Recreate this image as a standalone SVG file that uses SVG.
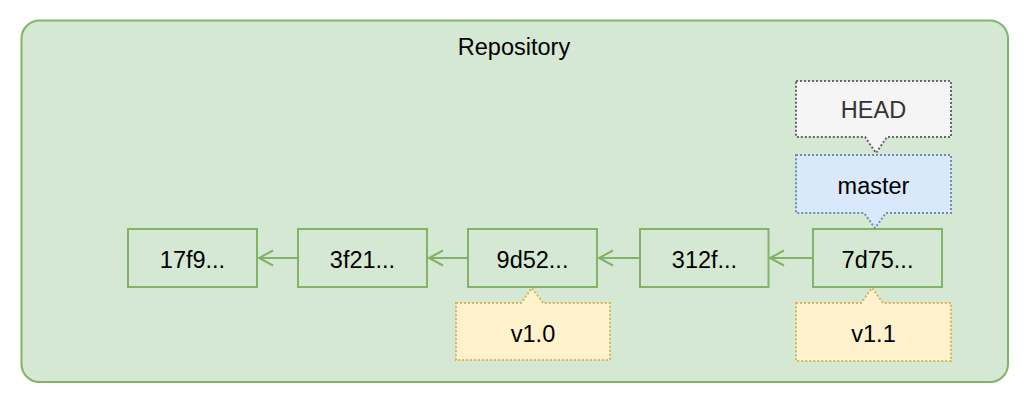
<svg xmlns="http://www.w3.org/2000/svg" width="1028" height="400" viewBox="0 0 1028 400">
  <defs>
    <style>
      text { font-family: "Liberation Sans", Arial, Helvetica, sans-serif; font-size: 23.5px; text-anchor: middle; fill: #000000; }
      .commit { fill: #d5e8d4; stroke: #82b366; stroke-width: 2; }
      .edge { fill: none; stroke: #82b366; stroke-width: 2; }
      .head { fill: #f5f5f5; stroke: #666666; stroke-width: 2; stroke-dasharray: 2 2; }
      .branch { fill: #dae8fc; stroke: #6c8ebf; stroke-width: 2; stroke-dasharray: 2 2; }
      .tag { fill: #fff2cc; stroke: #d6b656; stroke-width: 2; stroke-dasharray: 2 2; }
    </style>
    <marker id="open" markerUnits="userSpaceOnUse" markerWidth="18" markerHeight="18" refX="15" refY="8.5" orient="auto" overflow="visible">
      <path d="M1,1 L15,8.5 L1,16" fill="none" stroke="#82b366" stroke-width="2"/>
    </marker>
  </defs>

  <g id="repository">
    <rect x="21.5" y="20.5" width="986.5" height="361.5" rx="18" ry="18" fill="#d5e8d4" stroke="#82b366" stroke-width="2"/>
    <text x="514" y="55">Repository</text>
  </g>

  <g id="connectors">
    <line class="edge" x1="298" y1="258" x2="259" y2="258" marker-end="url(#open)"/>
    <line class="edge" x1="468" y1="258" x2="429" y2="258" marker-end="url(#open)"/>
    <line class="edge" x1="640" y1="258" x2="599" y2="258" marker-end="url(#open)"/>
    <line class="edge" x1="813" y1="258" x2="770" y2="258" marker-end="url(#open)"/>
  </g>

  <g id="commit-17f9">
    <rect class="commit" x="128" y="229" width="129" height="58"/>
    <text x="192.5" y="267.5">17f9...</text>
  </g>
  <g id="commit-3f21">
    <rect class="commit" x="298" y="229" width="129" height="58"/>
    <text x="362.5" y="267.5">3f21...</text>
  </g>
  <g id="commit-9d52">
    <rect class="commit" x="468" y="229" width="129" height="58"/>
    <text x="532.5" y="267.5">9d52...</text>
  </g>
  <g id="commit-312f">
    <rect class="commit" x="640" y="229" width="128.5" height="58"/>
    <text x="704.5" y="267.5">312f...</text>
  </g>
  <g id="commit-7d75">
    <rect class="commit" x="813" y="229" width="129" height="58"/>
    <text x="877.5" y="267.5">7d75...</text>
  </g>

  <g id="head">
    <path class="head" d="M796,81 H951 V137 H887 L876,153 L865,137 H796 Z"/>
    <text x="873.5" y="118" style="fill:#333333">HEAD</text>
  </g>
  <g id="master">
    <path class="branch" d="M796,155 H951 V213 H886 L875,228 L864,213 H796 Z"/>
    <text x="873.5" y="193.5">master</text>
  </g>
  <g id="tag-v1-0">
    <path class="tag" d="M456,303 H521 L532,288 L543,303 H610 V360 H456 Z"/>
    <text x="533" y="341.5">v1.0</text>
  </g>
  <g id="tag-v1-1">
    <path class="tag" d="M796,303 H861 L872,288 L883,303 H951 V361 H796 Z"/>
    <text x="873.5" y="341.5">v1.1</text>
  </g>
</svg>
